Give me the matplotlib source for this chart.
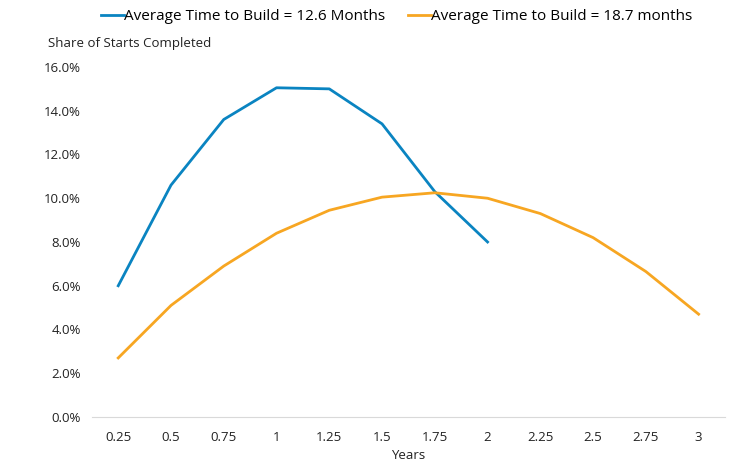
import matplotlib
matplotlib.use("Agg")
import matplotlib.pyplot as plt
import numpy as np
from matplotlib.ticker import PercentFormatter

plt.rcParams['font.family'] = ['Open Sans', 'DejaVu Sans']

years = ["0.25", "0.5", "0.75", "1", "1.25", "1.5", "1.75", "2",
         "2.25", "2.5", "2.75", "3"]
fast_build = [6.0, 10.6, 13.6, 15.05, 15.0, 13.4, 10.3, 8.0]
slow_build = [2.7, 5.1, 6.9, 8.4, 9.45, 10.05, 10.25, 10.0, 9.3, 8.2, 6.65, 4.7]

fast_label = "Average Time to Build = 12.6 Months"
slow_label = "Average Time to Build = 18.7 months"

fig = plt.figure(figsize=(7.29, 4.62), dpi=100)
ax = fig.add_axes([0.126, 0.0974, 0.8685, 0.7576])

x = np.arange(len(years))
ax.plot(x[:len(fast_build)], np.array(fast_build) / 100, color="#0a84c1", lw=2, label=fast_label)
ax.plot(x, np.array(slow_build) / 100, color="#f7a622", lw=2, label=slow_label)

ax.set_xlim(-0.5, len(years) - 0.5)
ax.set_ylim(0, 0.16)
ax.set_yticks(np.arange(0, 0.161, 0.02))
ax.yaxis.set_major_formatter(PercentFormatter(1.0, decimals=1))
ax.set_xticks(x)
ax.set_xticklabels(years)
ax.tick_params(length=0, labelsize=9.5, colors="#222222", pad=8)
ax.tick_params(axis='x', pad=10)

for s in ["top", "right", "left"]:
    ax.spines[s].set_visible(False)
ax.spines["bottom"].set_color("#d9d9d9")

ax.set_xlabel("Years", fontsize=9.5, color="#222222", labelpad=4)
fig.text(48 / 729, 1 - 44 / 462, "Share of Starts Completed", fontsize=9.5,
         color="#222222", va="center", ha="left")

# legend across the top, handles right up against the text
fig.legend(loc="center", bbox_to_anchor=(0.544, 1 - 17 / 462), ncol=2, frameon=False,
           fontsize=11, handlelength=1.5, handletextpad=0.0, columnspacing=1.5)

fig.savefig("out.png", dpi=100)
